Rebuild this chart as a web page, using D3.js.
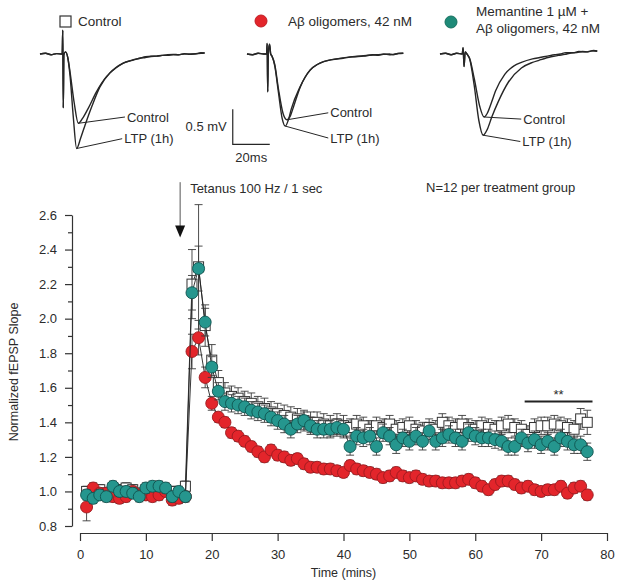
<!DOCTYPE html>
<html>
<head>
<meta charset="utf-8">
<script src="https://cdn.jsdelivr.net/npm/d3@7"></script>
<style>
  body { margin: 0; background: #fff; }
  svg text { font-family: "Liberation Sans", Arial, sans-serif; fill: #2b2b2b; }
</style>
</head>
<body>
<svg id="chart" width="618" height="583"></svg>
<script>
// ---- time course data (one sample per minute) ----
const minutes = d3.range(1, 78);

const controlMean = [
  1.00, 0.99, 1.01, 0.99, 1.02, 1.01, 1.02, 1.01, 0.99, 1.01, 1.02, 1.02, 1.01, 1.00, 0.99, 1.03,
  2.20, 2.30, 1.96, 1.76, 1.63, 1.57, 1.55, 1.54, 1.52, 1.51, 1.49, 1.48, 1.46, 1.45, 1.44, 1.43,
  1.42, 1.41, 1.40, 1.40, 1.39, 1.38, 1.39, 1.38,
  1.37, 1.39, 1.38, 1.36, 1.38, 1.37, 1.39, 1.36, 1.37, 1.38, 1.36, 1.35, 1.37, 1.36, 1.40, 1.38,
  1.37, 1.39, 1.37, 1.36, 1.38, 1.37, 1.36, 1.38, 1.39, 1.37, 1.36, 1.33, 1.37, 1.38, 1.38, 1.39,
  1.38, 1.37, 1.36, 1.42, 1.40
];
const controlErr = [
  0.03, 0.03, 0.03, 0.03, 0.03, 0.03, 0.03, 0.03, 0.03, 0.03, 0.03, 0.03, 0.03, 0.03, 0.03, 0.03,
  0.20, 0.36, 0.12, 0.09, 0.07, 0.06, 0.06, 0.06, 0.06, 0.06, 0.06, 0.06, 0.06, 0.06, 0.06, 0.06,
  0.06, 0.06, 0.06, 0.06, 0.06, 0.06, 0.06, 0.06,
  0.05, 0.05, 0.05, 0.05, 0.05, 0.05, 0.05, 0.05, 0.05, 0.05, 0.05, 0.05, 0.05, 0.05, 0.05, 0.05,
  0.05, 0.05, 0.05, 0.05, 0.05, 0.05, 0.05, 0.05, 0.05, 0.05, 0.05, 0.05, 0.05, 0.05, 0.05, 0.05,
  0.05, 0.05, 0.05, 0.06, 0.07
];

const abetaMean = [
  0.91, 1.02, 0.99, 0.99, 0.97, 0.96, 0.97, 1.00, 0.98, 0.98, 0.97, 0.98, 1.00, 0.95, 0.96, 0.97,
  1.81, 1.89, 1.66, 1.51, 1.43, 1.40, 1.34, 1.32, 1.29, 1.26, 1.23, 1.20, 1.24, 1.21, 1.20, 1.18,
  1.19, 1.16, 1.14, 1.14, 1.13, 1.13, 1.12, 1.11,
  1.15, 1.13, 1.12, 1.11, 1.10, 1.08, 1.09, 1.11, 1.09, 1.08, 1.09, 1.07, 1.06, 1.06, 1.05, 1.05,
  1.05, 1.06, 1.07, 1.05, 1.03, 1.01, 1.04, 1.06, 1.06, 1.04, 1.02, 1.03, 1.01, 1.00, 1.01, 1.01,
  1.03, 0.99, 1.02, 1.03, 0.98
];
const abetaErr = [
  0.08, 0.03, 0.03, 0.03, 0.03, 0.03, 0.03, 0.03, 0.03, 0.03, 0.03, 0.03, 0.03, 0.03, 0.03, 0.03,
  0.10, 0.10, 0.06, 0.04, 0.03, 0.03, 0.03, 0.03, 0.03, 0.03, 0.03, 0.03, 0.03, 0.03, 0.03, 0.03,
  0.03, 0.03, 0.03, 0.03, 0.03, 0.03, 0.03, 0.03,
  0.03, 0.03, 0.03, 0.03, 0.03, 0.03, 0.03, 0.03, 0.03, 0.03, 0.03, 0.03, 0.03, 0.03, 0.03, 0.03,
  0.03, 0.03, 0.03, 0.03, 0.03, 0.03, 0.03, 0.03, 0.03, 0.03, 0.03, 0.03, 0.03, 0.03, 0.03, 0.03,
  0.03, 0.03, 0.03, 0.03, 0.03
];

const memantineMean = [
  0.98, 0.96, 0.98, 0.97, 1.03, 1.00, 1.00, 0.99, 0.97, 1.02, 1.03, 1.03, 1.02, 0.97, 1.00, 0.97,
  2.15, 2.29, 1.98, 1.72, 1.58, 1.52, 1.51, 1.50, 1.49, 1.47, 1.46, 1.45, 1.43, 1.41, 1.39, 1.36,
  1.39, 1.41, 1.38, 1.36, 1.36, 1.36, 1.37, 1.36,
  1.26, 1.32, 1.31, 1.32, 1.26, 1.34, 1.32, 1.27, 1.31, 1.29, 1.32, 1.29, 1.35, 1.29, 1.31, 1.33,
  1.31, 1.29, 1.34, 1.32, 1.31, 1.31, 1.30, 1.29, 1.26, 1.26, 1.31, 1.28, 1.30, 1.27, 1.29, 1.26,
  1.31, 1.29, 1.27, 1.27, 1.23
];
const memantineErr = [
  0.03, 0.03, 0.03, 0.03, 0.03, 0.03, 0.03, 0.03, 0.03, 0.03, 0.03, 0.03, 0.03, 0.03, 0.03, 0.03,
  0.10, 0.13, 0.08, 0.06, 0.05, 0.05, 0.05, 0.05, 0.05, 0.05, 0.05, 0.05, 0.05, 0.05, 0.05, 0.05,
  0.05, 0.05, 0.05, 0.05, 0.05, 0.05, 0.05, 0.05,
  0.05, 0.05, 0.05, 0.05, 0.05, 0.05, 0.05, 0.05, 0.05, 0.05, 0.05, 0.05, 0.05, 0.05, 0.05, 0.05,
  0.05, 0.05, 0.05, 0.05, 0.05, 0.05, 0.05, 0.05, 0.05, 0.05, 0.05, 0.05, 0.05, 0.05, 0.05, 0.05,
  0.05, 0.05, 0.05, 0.05, 0.05
];

const yTickLabels = [0.8, 1.0, 1.2, 1.4, 1.6, 1.8, 2.0, 2.2, 2.4, 2.6];
const yMinorTicks = [0.9, 1.1, 1.3, 1.5, 1.7, 1.9, 2.1, 2.3, 2.5];
const xTickLabels = [0, 10, 20, 30, 40, 50, 60, 70, 80];

const tetanusTime = 15.2;
const tetanusArrow = [2.79, 2.47];   // slope units, tail -> tip
const sigRange = [67.5, 77.8];
const sigLevel = 1.52;

const legendNames = ["Control", "A\u03b2 oligomers, 42 nM", ["Memantine 1 \u00b5M +", "A\u03b2 oligomers, 42 nM"]];

// ---- example fEPSP traces: [ms, mV] ----
const trace1Control = [[0,0],[3,0.01],[6,-0.01],[9,0.005],[12,0],[12.3,0.34],[12.6,-0.77],[12.9,-0.01],[13.8,0.03],[15,-0.05],[16.2,-0.25],[18.5,-0.7],[20.7,-0.99],[23,-0.92],[26,-0.78],[30.5,-0.54],[36,-0.32],[41,-0.2],[45,-0.13],[50,-0.09],[54,-0.06],[57,-0.05],[60,-0.035],[63,-0.03],[66,-0.02],[69,-0.02],[72,-0.01],[75,-0.01],[78,0],[81,-0.005],[84,0.005],[87,0.01],[89,0.015]];
const trace1Ltp = [[0,0],[3,0.01],[6,-0.01],[9,0.005],[12,0],[12.3,0.34],[12.6,-0.77],[12.9,-0.01],[13.8,0.03],[15,-0.05],[16.2,-0.3],[18,-0.9],[19.8,-1.35],[22,-1.2],[24.3,-1.02],[28,-0.75],[32.4,-0.47],[37.8,-0.27],[45,-0.13],[50,-0.085],[54,-0.06],[57,-0.04],[60,-0.03],[63,-0.03],[66,-0.02],[69,-0.01],[72,-0.005],[75,-0.01],[78,0.005],[81,0],[84,0],[87,0.02],[89,0.015]];
const trace2Control = [[0,0],[3,-0.01],[6,0.01],[9,0],[10.6,0],[10.9,0.15],[11.2,-0.54],[11.5,0],[12.2,0.14],[12.8,0],[13.5,-0.03],[15,-0.15],[17,-0.5],[19.5,-0.85],[21.6,-0.94],[23.5,-0.88],[25.2,-0.75],[28.8,-0.47],[34.2,-0.23],[38,-0.15],[41.4,-0.11],[46,-0.08],[52,-0.06],[57,-0.04],[63,-0.03],[68,-0.01],[71,-0.02],[74,0],[77,-0.01],[79,-0.005],[82,0.005],[84.5,0.01]];
const trace2Ltp = [[0,0],[3,-0.01],[6,0.01],[9,0],[10.6,0],[10.9,0.15],[11.2,-0.54],[11.5,0],[12.2,0.14],[12.8,0],[13.5,-0.03],[15,-0.17],[17,-0.55],[19,-0.92],[20.7,-1.03],[22.5,-0.93],[24,-0.78],[28.5,-0.48],[34,-0.23],[38,-0.15],[41.4,-0.11],[46,-0.08],[52,-0.055],[57,-0.04],[63,-0.025],[68,-0.015],[71,-0.01],[74,-0.005],[77,0],[79,-0.01],[82,0.01],[84.5,0.01]];
const trace3Control = [[0,0],[3,0.01],[6,-0.01],[9,0.01],[12,0],[12.5,0.09],[13,-0.18],[13.6,0.03],[14.8,-0.01],[16,-0.06],[18.5,-0.35],[21.5,-0.75],[23.8,-0.9],[25.5,-0.85],[28,-0.68],[30,-0.53],[35,-0.29],[40,-0.17],[44,-0.12],[50,-0.07],[54,-0.05],[58,-0.03],[62,-0.01],[65,0],[68,0.02],[72,0.02],[75,0.035],[79,0.03],[82,0.045],[85,0.04]];
const trace3Ltp = [[0,0],[3,0.01],[6,-0.01],[9,0.01],[12,0],[12.5,0.09],[13,-0.18],[13.6,0.03],[14.8,-0.01],[16,-0.07],[18.5,-0.45],[21,-0.95],[23.3,-1.16],[25.5,-1.08],[28,-0.9],[31.5,-0.68],[37,-0.4],[44,-0.2],[50,-0.12],[53.5,-0.09],[60,-0.04],[64,-0.02],[67.5,-0.005],[71,0.015],[74,0.02],[77,0.035],[80,0.03],[83,0.05],[85,0.045]];

const traceLabelAnchors = [
  { control: [47, -0.9], ltp: [45.5, -1.21] },
  { control: [45, -0.84], ltp: [45, -1.2] },
  { control: [45, -0.93], ltp: [44.5, -1.25] }
];
const scaleBar = { ms: -7.7, mV: -1.29, lenMs: 20, lenMv: 0.5 };

// ---- drawing ----
const svg = d3.select("#chart");
const ink = "#262626";

const x = d3.scaleLinear().domain([0, 80]).range([80, 607]);
const y = d3.scaleLinear().domain([0.8, 2.6]).range([526, 215]);

// axes
svg.append("g").attr("transform", "translate(72,0)")
  .call(d3.axisLeft(y).tickValues(yTickLabels).tickFormat(d3.format(".1f"))
    .tickSize(7).tickSizeOuter(0).tickPadding(8));
svg.append("g").attr("transform", "translate(72,0)")
  .call(d3.axisLeft(y).tickValues(yMinorTicks).tickFormat("").tickSize(4).tickSizeOuter(0))
  .select(".domain").remove();

svg.append("g").attr("transform", "translate(0,533)")
  .call(d3.axisBottom(x).tickValues(xTickLabels).tickFormat(d3.format("d"))
    .tickSize(8).tickSizeOuter(0).tickPadding(9));

svg.selectAll(".tick text").attr("font-size", 13).attr("font-family", null).attr("fill", ink);
svg.selectAll(".domain, .tick line").attr("stroke", "#333").attr("stroke-width", 1.2);

svg.append("text")
  .attr("transform", "translate(18,372) rotate(-90)")
  .attr("text-anchor", "middle").attr("font-size", 12.5).attr("fill", "#444")
  .text("Normalized fEPSP Slope");
svg.append("text")
  .attr("x", (x.range()[0] + x.range()[1]) / 2).attr("y", 577)
  .attr("text-anchor", "middle").attr("font-size", 12.5)
  .text("Time (mins)");

// series
const series = [
  { key: "control", mean: controlMean, err: controlErr, shape: "square", fill: "#fff", stroke: "#333" },
  { key: "abeta", mean: abetaMean, err: abetaErr, shape: "circle", fill: "#e3252b", stroke: "#9c1b1f" },
  { key: "memantine", mean: memantineMean, err: memantineErr, shape: "circle", fill: "#25968e", stroke: "#10534f" }
];

const line = d3.line().x(d => x(d.t)).y(d => y(d.v));

series.forEach(s => {
  const pts = minutes.map((t, i) => ({ t, v: s.mean[i], e: s.err[i] }));
  const g = svg.append("g").attr("class", s.key);

  g.append("path").datum(pts).attr("d", line)
    .attr("fill", "none").attr("stroke", "#222").attr("stroke-width", 0.9);

  const eb = g.selectAll(".err").data(pts).join("g").attr("class", "err")
    .attr("stroke", "#3a3a3a").attr("stroke-width", 0.9);
  eb.append("line").attr("x1", d => x(d.t)).attr("x2", d => x(d.t))
    .attr("y1", d => y(d.v - d.e)).attr("y2", d => y(d.v + d.e));
  eb.append("line").attr("x1", d => x(d.t) - 4).attr("x2", d => x(d.t) + 4)
    .attr("y1", d => y(d.v + d.e)).attr("y2", d => y(d.v + d.e));
  eb.append("line").attr("x1", d => x(d.t) - 4).attr("x2", d => x(d.t) + 4)
    .attr("y1", d => y(d.v - d.e)).attr("y2", d => y(d.v - d.e));

  if (s.shape === "square") {
    g.selectAll(".pt").data(pts).join("rect").attr("class", "pt")
      .attr("x", d => x(d.t) - 5).attr("y", d => y(d.v) - 5)
      .attr("width", 10).attr("height", 10)
      .attr("fill", s.fill).attr("stroke", s.stroke).attr("stroke-width", 1);
  } else {
    g.selectAll(".pt").data(pts).join("circle").attr("class", "pt")
      .attr("cx", d => x(d.t)).attr("cy", d => y(d.v)).attr("r", 6)
      .attr("fill", s.fill).attr("stroke", s.stroke).attr("stroke-width", 0.9);
  }
});

// tetanus arrow
const ax = x(tetanusTime);
svg.append("line").attr("x1", ax).attr("x2", ax)
  .attr("y1", y(tetanusArrow[0])).attr("y2", y(tetanusArrow[1]) - 11)
  .attr("stroke", "#555").attr("stroke-width", 1);
svg.append("path")
  .attr("d", `M${ax - 5},${y(tetanusArrow[1]) - 12} L${ax + 5},${y(tetanusArrow[1]) - 12} L${ax},${y(tetanusArrow[1])} Z`)
  .attr("fill", "#111");
svg.append("text").attr("x", ax + 10).attr("y", 193).attr("font-size", 13)
  .text("Tetanus 100 Hz / 1 sec");
svg.append("text").attr("x", 426).attr("y", 192).attr("font-size", 13)
  .text("N=12 per treatment group");

// significance bar
svg.append("line").attr("x1", x(sigRange[0])).attr("x2", x(sigRange[1]))
  .attr("y1", y(sigLevel)).attr("y2", y(sigLevel))
  .attr("stroke", "#222").attr("stroke-width", 2);
svg.append("text").attr("x", x((sigRange[0] + sigRange[1]) / 2)).attr("y", y(sigLevel) - 3)
  .attr("text-anchor", "middle").attr("font-size", 13).text("**");

// legend
svg.append("rect").attr("x", 60).attr("y", 16).attr("width", 11).attr("height", 11)
  .attr("fill", "#fff").attr("stroke", "#333").attr("stroke-width", 1.2);
svg.append("text").attr("x", 78).attr("y", 26).attr("font-size", 13.5).text(legendNames[0]);
svg.append("circle").attr("cx", 261).attr("cy", 21).attr("r", 6)
  .attr("fill", "#e3252b").attr("stroke", "#c01d24");
svg.append("text").attr("x", 288).attr("y", 26).attr("font-size", 13.5).text(legendNames[1]);
svg.append("circle").attr("cx", 451).attr("cy", 22).attr("r", 6)
  .attr("fill", "#1e8a78").attr("stroke", "#16705f");
svg.append("text").attr("x", 476).attr("y", 16).attr("font-size", 13.5).text(legendNames[2][0]);
svg.append("text").attr("x", 476).attr("y", 33).attr("font-size", 13.5).text(legendNames[2][1]);

// traces
const panels = [
  { x0: 40, control: trace1Control, ltp: trace1Ltp },
  { x0: 247, control: trace2Control, ltp: trace2Ltp },
  { x0: 440, control: trace3Control, ltp: trace3Ltp }
];
const ty = d3.scaleLinear().domain([0, -0.5]).range([54, 89]);

panels.forEach((p, i) => {
  const tx = d3.scaleLinear().domain([0, 20]).range([p.x0, p.x0 + 37]);
  const tl = d3.line().x(d => tx(d[0])).y(d => ty(d[1])).curve(d3.curveMonotoneX);
  const g = svg.append("g");
  [p.control, p.ltp].forEach(tr => {
    g.append("path").datum(tr).attr("d", tl)
      .attr("fill", "none").attr("stroke", ink).attr("stroke-width", 1.4);
  });
  const anchors = traceLabelAnchors[i];
  [["control", "Control"], ["ltp", "LTP (1h)"]].forEach(([k, label]) => {
    const trough = d3.least(p[k], d => d[1]);
    const a = anchors[k];
    g.append("line")
      .attr("x1", tx(trough[0])).attr("y1", ty(trough[1]))
      .attr("x2", tx(a[0]) - 2).attr("y2", ty(a[1]))
      .attr("stroke", ink).attr("stroke-width", 1);
    g.append("text").attr("x", tx(a[0])).attr("y", ty(a[1])).attr("dy", "0.35em")
      .attr("font-size", 13).text(label);
  });
  if (i === 1) {
    const bx = tx(scaleBar.ms), by = ty(scaleBar.mV);
    g.append("path")
      .attr("d", `M${bx},${ty(scaleBar.mV + scaleBar.lenMv)} L${bx},${by} L${tx(scaleBar.ms + scaleBar.lenMs)},${by}`)
      .attr("fill", "none").attr("stroke", ink).attr("stroke-width", 1.2);
    g.append("text").attr("x", bx - 6).attr("y", ty(scaleBar.mV + scaleBar.lenMv / 2)).attr("dy", "0.35em")
      .attr("text-anchor", "end").attr("font-size", 13).text("0.5 mV");
    g.append("text").attr("x", (bx + tx(scaleBar.ms + scaleBar.lenMs)) / 2).attr("y", by + 18)
      .attr("text-anchor", "middle").attr("font-size", 13).text("20ms");
  }
});
</script>
</body>
</html>
